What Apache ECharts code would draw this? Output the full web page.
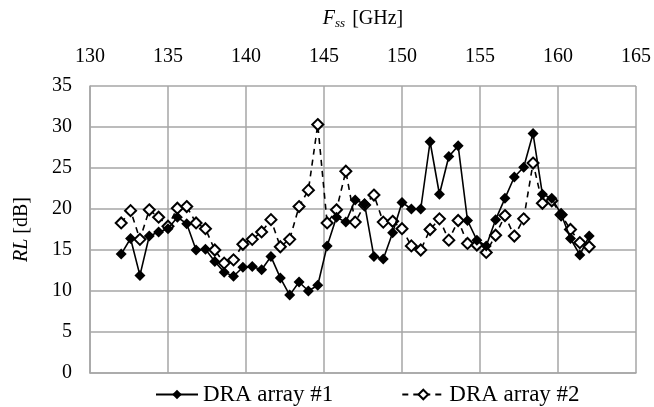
<!DOCTYPE html>
<html lang="en" style="height: 100%">
<head>
  <meta charset="utf-8">
</head>
<body style="height: 100%; margin: 0; background-color: #fff">
  <div id="container" style="width: 654px; height: 407px"></div>
  <script type="text/javascript" src="https://cdn.jsdelivr.net/npm/echarts@6/dist/echarts.min.js"></script>
  <script type="text/javascript">
    // frequency points [GHz]
    var freqs = [132.0, 132.6, 133.2, 133.8, 134.4, 135.0, 135.6, 136.2, 136.8, 137.4,
      138.0, 138.6, 139.2, 139.8, 140.4, 141.0, 141.6, 142.2, 142.8, 143.4,
      144.0, 144.6, 145.2, 145.8, 146.4, 147.0, 147.6, 148.2, 148.8, 149.4,
      150.0, 150.6, 151.2, 151.8, 152.4, 153.0, 153.6, 154.2, 154.8, 155.4,
      156.0, 156.6, 157.2, 157.8, 158.4, 159.0, 159.6, 160.2, 160.8, 161.4, 162.0];

    // RL [dB], DRA array #1
    var rlArray1 = [14.5, 16.4, 11.9, 16.7, 17.2, 17.6, 19.0, 18.2, 15.0, 15.1,
      13.6, 12.3, 11.8, 12.9, 13.0, 12.6, 14.2, 11.6, 9.5, 11.1,
      10.0, 10.7, 15.5, 19.0, 18.4, 21.1, 20.6, 14.2, 13.9, 17.1,
      20.8, 20.0, 20.0, 28.2, 21.8, 26.4, 27.7, 18.6, 16.2, 15.5,
      18.7, 21.3, 23.9, 25.1, 29.2, 21.8, 21.3, 19.4, 16.4, 14.4, 16.7];

    // RL [dB], DRA array #2
    var rlArray2 = [18.3, 19.8, 16.3, 19.9, 19.0, 17.9, 20.1, 20.3, 18.3, 17.6,
      15.0, 13.4, 13.8, 15.7, 16.3, 17.2, 18.7, 15.4, 16.3, 20.3,
      22.3, 30.3, 18.3, 19.9, 24.6, 18.4, 20.5, 21.7, 18.4, 18.5,
      17.6, 15.5, 15.0, 17.5, 18.8, 16.2, 18.6, 15.8, 15.6, 14.7,
      16.8, 19.2, 16.7, 18.8, 25.6, 20.7, 21.0, 19.3, 17.5, 15.9, 15.4];

    var xTicks = [130, 135, 140, 145, 150, 155, 160, 165];
    var yTicks = [0, 5, 10, 15, 20, 25, 30, 35];

    function pairs(ys) {
      return freqs.map(function (f, i) { return [f, ys[i]]; });
    }

    var serif = "'Liberation Serif', 'Times New Roman', serif";
    var gridColor = '#a6a6a6';

    var chart = echarts.init(document.getElementById('container'), null, { renderer: 'canvas' });

    var option = {
      animation: false,
      textStyle: { fontFamily: serif, color: '#000' },
      grid: { left: 90, right: 17, top: 86, bottom: 34 },
      xAxis: {
        type: 'value',
        position: 'top',
        min: xTicks[0],
        max: xTicks[xTicks.length - 1],
        interval: 5,
        name: '{i|F}{s|ss} [GHz]',
        nameLocation: 'middle',
        nameGap: 56,
        nameTextStyle: {
          fontFamily: serif, fontSize: 20, color: '#000',
          rich: {
            i: { fontFamily: serif, fontStyle: 'italic', fontSize: 20, color: '#000' },
            s: { fontFamily: serif, fontStyle: 'italic', fontSize: 13, color: '#000', verticalAlign: 'bottom', padding: [10, 2, 0, 0] }
          }
        },
        axisLine: { lineStyle: { color: gridColor, width: 1.5 } },
        axisTick: { show: false },
        axisLabel: { fontFamily: serif, fontSize: 20, color: '#000', margin: 19 },
        splitLine: { show: true, lineStyle: { color: gridColor, width: 1.5 } }
      },
      yAxis: {
        type: 'value',
        min: yTicks[0],
        max: yTicks[yTicks.length - 1],
        interval: 5,
        name: '{i|RL} [dB]',
        nameLocation: 'middle',
        nameGap: 58,
        nameTextStyle: {
          fontFamily: serif, fontSize: 20, color: '#000',
          rich: { i: { fontFamily: serif, fontStyle: 'italic', fontSize: 20, color: '#000' } }
        },
        axisLine: { show: true, lineStyle: { color: gridColor, width: 1.5 } },
        axisTick: { show: false },
        axisLabel: { fontFamily: serif, fontSize: 20, color: '#000', margin: 18 },
        splitLine: { show: true, lineStyle: { color: gridColor, width: 1.5 } }
      },
      legend: {
        top: 378,
        left: 150,
        itemWidth: 42,
        itemHeight: 12,
        itemGap: 68,
        textStyle: { fontFamily: serif, fontSize: 23, color: '#000' },
        data: ['DRA array #1', 'DRA array #2']
      },
      series: [
        {
          name: 'DRA array #1',
          type: 'line',
          z: 3,
          data: pairs(rlArray1),
          symbol: 'diamond',
          symbolSize: 11,
          itemStyle: { color: '#000' },
          lineStyle: { color: '#000', width: 1.6 }
        },
        {
          name: 'DRA array #2',
          type: 'line',
          z: 2,
          data: pairs(rlArray2),
          symbol: 'diamond',
          symbolSize: 11,
          itemStyle: { color: '#fff', borderColor: '#000', borderWidth: 2 },
          lineStyle: { color: '#000', width: 1.6, type: [6, 5] }
        }
      ]
    };

    chart.setOption(option);
    window.addEventListener('resize', chart.resize);
  </script>
</body>
</html>
